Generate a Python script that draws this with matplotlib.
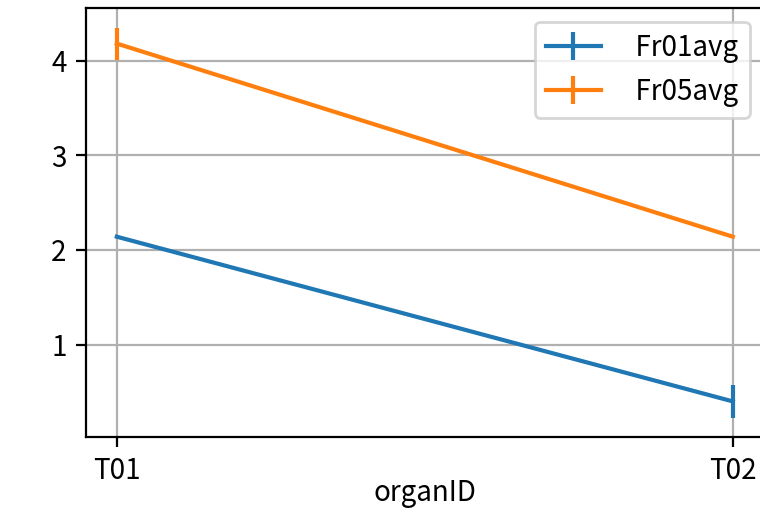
import matplotlib.pyplot as plt
import numpy as np

plt.rcParams['font.family'] = ['Noto Sans CJK SC', 'DejaVu Sans']
plt.rcParams['axes.unicode_minus'] = False

organs = ["T01", "T02"]
fr01_avg = [2.14, 0.40]
fr01_err = [np.nan, 0.17]
fr05_avg = [4.18, 2.14]
fr05_err = [0.17, np.nan]

DPI = 200
fig = plt.figure(figsize=(760 / DPI, 509 / DPI), dpi=DPI)
ax = fig.add_axes([86 / 760, (509 - 437) / 509, 677.6 / 760, 429 / 509])

ax.errorbar(organs, fr01_avg, yerr=fr01_err, label="  Fr01avg")
ax.errorbar(organs, fr05_avg, yerr=fr05_err, label="  Fr05avg")

# label sits lower in this font, pull it up so it stays inside the frame
ax.set_xlabel("organID", labelpad=-3)
ax.grid(True)
ax.legend(loc="upper right")

fig.savefig("out.png", dpi=DPI)
